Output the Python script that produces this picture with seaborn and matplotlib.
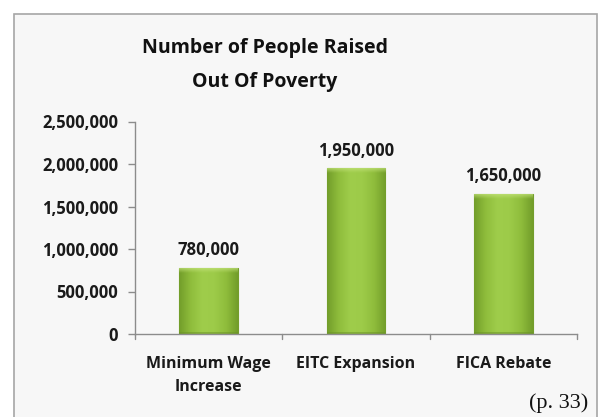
import numpy as np
import pandas as pd
import matplotlib
matplotlib.use("Agg")
import matplotlib.pyplot as plt
import seaborn as sns
from matplotlib.patches import Rectangle

categories = ["Minimum Wage\nIncrease", "EITC Expansion", "FICA Rebate"]
values = [780000, 1950000, 1650000]
value_labels = ["780,000", "1,950,000", "1,650,000"]
yticks = [0, 500000, 1000000, 1500000, 2000000, 2500000]
ytick_labels = ["0", "500,000", "1,000,000", "1,500,000", "2,000,000", "2,500,000"]
title = "Number of People Raised\nOut Of Poverty"
note = "(p. 33)"

sns.set_theme(style="white")
plt.rcParams['font.family'] = ['Open Sans', 'DejaVu Sans']

W, H = 606, 417
fig = plt.figure(figsize=(W/100, H/100), dpi=100, facecolor="white")

# outer chart box
box = Rectangle((14/W, -0.02), (597-14)/W, (417-14)/H + 0.02, transform=fig.transFigure,
                facecolor="#f7f7f7", edgecolor="#a6a6a6", linewidth=1.2, zorder=-5)
fig.patches.append(box)

ax = fig.add_axes([135/W, 1-334/H, (577-135)/W, (334-121.5)/H])
ax.set_facecolor("none")
ax.set_zorder(2)

df = pd.DataFrame({"cat": categories, "val": values})
sns.barplot(data=df, x="cat", y="val", ax=ax, color="#93c23f", width=0.4,
            edgecolor="#739d2c", linewidth=0.8, saturation=1)

# horizontal gradient fill for bevel look
cmap = matplotlib.colors.LinearSegmentedColormap.from_list(
    "g", ["#729d2a", "#8fbd3c", "#9fcd4b", "#9dcb49", "#8fbd3c", "#729d2a"])
grad = np.linspace(0, 1, 256).reshape(1, -1)
top_cmap = matplotlib.colors.LinearSegmentedColormap.from_list(
    "t", [(0.76, 0.88, 0.47, 0.0), (0.78, 0.90, 0.50, 0.85)])
vgrad = np.linspace(0, 1, 64).reshape(-1, 1)
for p in list(ax.patches):
    x0, y0 = p.get_x(), p.get_y()
    w, h = p.get_width(), p.get_height()
    im = ax.imshow(grad, extent=[x0, x0 + w, y0, y0 + h], aspect="auto",
                   cmap=cmap, zorder=p.get_zorder() + 0.1)
    im.set_clip_path(p)
    im2 = ax.imshow(vgrad, extent=[x0, x0 + w, y0 + h - 60000, y0 + h], aspect="auto",
                    cmap=top_cmap, origin="lower", zorder=p.get_zorder() + 0.2)
    im2.set_clip_path(p)
    ax.fill_between([x0, x0 + w], [y0 + 20000, y0 + 20000], [y0, y0],
                    color="#6a9326", alpha=0.5, zorder=p.get_zorder() + 0.2, linewidth=0)

ax.set_xlim(-0.5, 2.5)
ax.set_ylim(0, 2500000)
ax.set_yticks(yticks)
ax.set_yticklabels(ytick_labels, fontsize=12, fontweight="bold", color="#1a1a1a")
ax.set_xticks(range(len(categories)))
ax.set_xticklabels(categories, fontsize=11.5, fontweight="bold", color="#1a1a1a", linespacing=1.6)
ax.set_xlabel("")
ax.set_ylabel("")

for s in ["top", "right"]:
    ax.spines[s].set_visible(False)
for s in ["left", "bottom"]:
    ax.spines[s].set_color("#8c8c8c")
    ax.spines[s].set_linewidth(1)

ax.tick_params(axis="y", left=True, length=5, width=1, color="#8c8c8c", pad=7)
ax.tick_params(axis="x", bottom=False, pad=10)
for xb in [-0.5, 0.5, 1.5, 2.5]:
    ax.plot([xb, xb], [0, -0.025], transform=ax.get_xaxis_transform(), color="#8c8c8c",
            linewidth=1, clip_on=False)

for i, (v, lab) in enumerate(zip(values, value_labels)):
    ax.text(i, v + 100000, lab, ha="center", va="bottom", fontsize=12,
            fontweight="bold", color="#1a1a1a")

fig.text(265/W, 1-65/H, title, ha="center", va="center", fontsize=14,
         fontweight="bold", color="#111111", linespacing=1.9)
fig.text(588/W, 1-403/H, note, ha="right", va="center", fontsize=16,
         family=["Liberation Serif", "DejaVu Serif"], color="#111111")

fig.savefig("out.png", dpi=100, facecolor="white")
